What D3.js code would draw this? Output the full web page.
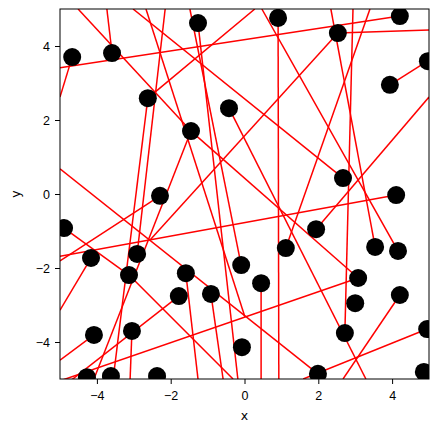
<!DOCTYPE html>
<html>
<head>
<meta charset="utf-8">
<script src="https://cdnjs.cloudflare.com/ajax/libs/d3/7.8.5/d3.min.js"></script>
<style>
  body { margin: 0; background: #fff; font-family: "DejaVu Sans", sans-serif; }
  .tick text { font-size: 12.5px; fill: #000; }
</style>
</head>
<body>
<div id="chart"></div>
<script>
// black dots
var dotX = [-4.67, -3.59, -2.62, -1.45, -1.26, -2.29, -4.89, -4.16, -2.91, -3.13,
            -1.59, -1.78, -0.91, -4.08, -3.05, -4.27, -3.62, -2.37, 0.91, -0.42,
            2.53, 4.21, 4.97, 3.94, 2.67, 4.11, 1.94, 1.12, -0.09, 0.45,
            3.54, 4.16, 3.08, 3.0, 2.72, 4.21, -0.07, 1.99, 4.95, 4.86];
var dotY = [3.70, 3.81, 2.59, 1.70, 4.62, -0.05, -0.92, -1.73, -1.62, -2.19,
            -2.14, -2.76, -2.70, -3.81, -3.70, -4.95, -4.92, -4.92, 4.76, 2.32,
            4.35, 4.81, 3.59, 2.95, 0.43, -0.03, -0.95, -1.46, -1.92, -2.41,
            -1.43, -1.54, -2.27, -2.95, -3.76, -2.73, -4.14, -4.86, -3.65, -4.81];

// red line segments (start / end)
var segX1 = [4.21, -4.67, -3.59, -1.45, -1.45, -2.91, -2.62, -5.0, -3.02, -2.67,
             0.47, 2.53, 2.94, 0.91, 0.45, 2.53, 3.94, 1.94, 1.12, -2.62,
             -2.29, -5.0, -4.16, -5.0, 3.08, 3.54, 4.21, 4.95, -0.42, -1.48,
             -1.26, -1.78, -0.91, -1.59, -3.05, -4.89, -1.45, -3.13];
var segY1 = [4.81, 3.70, 3.81, 1.70, 1.70, -1.62, 2.59, 0.68, 5.0, 5.0,
             5.0, 4.35, 5.0, 4.76, -2.41, 4.35, 2.95, -0.95, -1.46, 2.59,
             -0.05, -1.68, -1.73, -4.49, -2.27, -1.43, -2.73, -3.65, 2.32, 5.0,
             4.62, -2.76, -2.70, -2.14, -3.70, -0.92, 1.70, -2.19];
var segX2 = [-5.0, -5.0, -3.73, -4.51, 3.08, -2.15, -3.56, 1.99, 2.67, 0.01,
             4.16, 5.0, 2.72, 0.93, 0.45, -2.56, 5.0, 5.0, 3.40, 0.28,
             -5.0, 4.11, -5.0, -4.08, -5.0, 2.34, 2.67, 1.59, 3.29, -0.09,
             -0.18, -5.0, -0.58, -1.26, -3.10, -3.13, -4.08, -0.31];
var segY2 = [3.41, 2.62, 5.0, 5.0, -2.27, 5.0, -5.0, -4.86, 0.43, -3.32,
             -1.54, 4.43, -3.76, -5.0, -5.0, -1.24, 3.62, 2.62, 5.0, 5.0,
             -1.81, -0.03, -3.14, -3.81, -5.05, 5.0, -5.0, -5.0, -5.0, -1.92,
             -5.0, -5.27, -5.0, -5.0, -5.0, -2.19, -5.0, -5.0];

var xTicks = [-4, -2, 0, 2, 4];
var yTicks = [-4, -2, 0, 2, 4];

var width = 439, height = 432;
var margin = {left: 60, top: 9, right: 10, bottom: 53};

var svg = d3.select('#chart').append('svg')
    .attr('width', width)
    .attr('height', height);

var x = d3.scaleLinear().domain([-5, 5]).range([margin.left, width - margin.right]);
var y = d3.scaleLinear().domain([-5, 5]).range([height - margin.bottom, margin.top]);

svg.append('clipPath').attr('id', 'clip')
    .append('rect')
    .attr('x', x(-5)).attr('y', y(5))
    .attr('width', x(5) - x(-5)).attr('height', y(-5) - y(5));

var plot = svg.append('g').attr('clip-path', 'url(#clip)');

plot.selectAll('line.seg')
    .data(d3.range(segX1.length))
    .enter()
    .append('line')
    .attr('class', 'seg')
    .attr('x1', function (i) { return x(segX1[i]); })
    .attr('y1', function (i) { return y(segY1[i]); })
    .attr('x2', function (i) { return x(segX2[i]); })
    .attr('y2', function (i) { return y(segY2[i]); })
    .attr('stroke', '#ff0000')
    .attr('stroke-width', 1.5);

plot.selectAll('circle')
    .data(d3.range(dotX.length))
    .enter()
    .append('circle')
    .attr('cx', function (i) { return x(dotX[i]); })
    .attr('cy', function (i) { return y(dotY[i]); })
    .attr('r', 9)
    .attr('fill', '#000');

var fmt = function (d) { return d < 0 ? '\u2212' + Math.abs(d) : d; };

svg.append('g')
    .attr('transform', 'translate(0,' + y(-5) + ')')
    .call(d3.axisBottom(x).tickValues(xTicks).tickSize(5).tickPadding(7).tickFormat(fmt))
    .call(function (g) { g.select('.domain').remove(); });

svg.append('g')
    .attr('transform', 'translate(' + x(-5) + ',0)')
    .call(d3.axisLeft(y).tickValues(yTicks).tickSize(5).tickPadding(5).tickFormat(fmt))
    .call(function (g) { g.select('.domain').remove(); });

svg.append('rect')
    .attr('x', x(-5)).attr('y', y(5))
    .attr('width', x(5) - x(-5)).attr('height', y(-5) - y(5))
    .attr('fill', 'none')
    .attr('stroke', '#000')
    .attr('stroke-width', 1);

svg.append('text')
    .attr('x', (x(-5) + x(5)) / 2)
    .attr('y', 420)
    .attr('text-anchor', 'middle')
    .style('font-size', '12.5px')
    .text('x');

svg.append('text')
    .attr('transform', 'translate(20,' + (y(-5) + y(5)) / 2 + ') rotate(-90)')
    .attr('text-anchor', 'middle')
    .style('font-size', '12.5px')
    .text('y');
</script>
</body>
</html>
